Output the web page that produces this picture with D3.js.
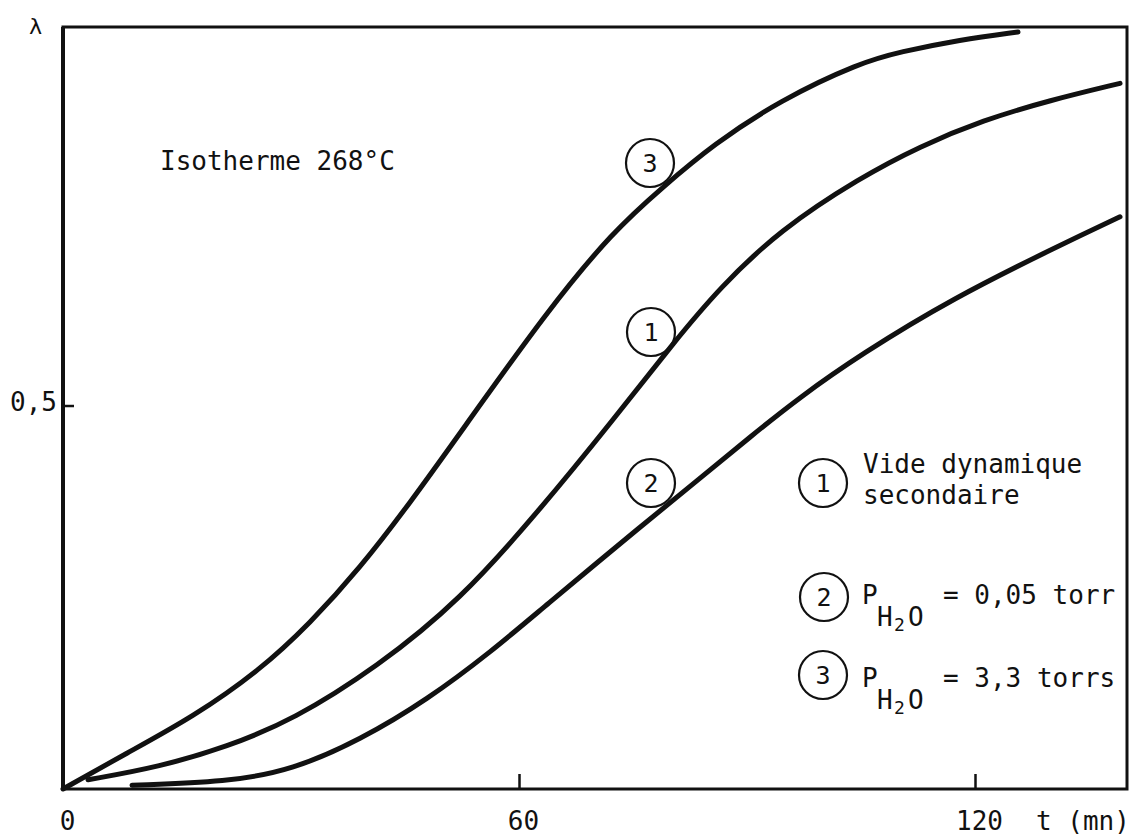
<!DOCTYPE html>
<html>
<head>
<meta charset="utf-8">
<script src="https://cdn.jsdelivr.net/npm/d3@7"></script>
<style>
  html, body { margin: 0; padding: 0; background: #fff; }
  text { font-family: "DejaVu Sans Mono", "Liberation Mono", monospace; fill: #111; }
</style>
</head>
<body>
<svg id="chart" width="1133" height="840"></svg>
<script>
// ---- data (t in minutes, lambda = fraction reacted) ----
const curve1_t = [3.29, 12.76, 21.58, 30.26, 41.32, 52.24, 62.76, 72.37, 80.26, 86.45, 94.34, 104.87, 112.76, 121.05, 129.87, 139.08];
const curve1_l = [0.012, 0.029, 0.055, 0.090, 0.159, 0.246, 0.364, 0.481, 0.581, 0.654, 0.729, 0.797, 0.838, 0.872, 0.898, 0.920];

const curve2_t = [9.08, 21.58, 30.26, 39.08, 47.89, 56.58, 62.76, 76.58, 83.82, 90.39, 96.97, 104.87, 117.11, 131.18, 139.08];
const curve2_l = [0.005, 0.009, 0.025, 0.064, 0.116, 0.181, 0.233, 0.347, 0.405, 0.459, 0.511, 0.566, 0.640, 0.709, 0.746];

const curve3_t = [0, 8.42, 17.11, 25.92, 32.50, 39.08, 45.66, 52.24, 63.68, 72.37, 78.95, 85.53, 94.34, 104.87, 110.13, 118.03, 125.66];
const curve3_l = [0.0, 0.047, 0.094, 0.155, 0.216, 0.288, 0.373, 0.464, 0.623, 0.727, 0.785, 0.840, 0.898, 0.947, 0.961, 0.977, 0.987];

const xTickValues = [0, 60, 120];
const xTickLabels = ["0", "60", "120"];
const yTickValues = [0.5];
const yTickLabels = ["0,5"];

const seriesNames = ["1", "2", "3"];
const legendTexts = [["Vide dynamique", "secondaire"], ["= 0,05 torr"], ["= 3,3 torrs"]];
const titleText = "Isotherme 268°C";
const yAxisTitle = "λ";
const xAxisTitle = "t (mn)";

// ---- layout ----
const svg = d3.select("#chart");
const mLeft = 63, mRight = 1127, mTop = 27, mBottom = 789;
const x = d3.scaleLinear().domain([0, 140]).range([mLeft, mRight]);
const y = d3.scaleLinear().domain([0, 0.9935]).range([mBottom, mTop]);

// frame
svg.append("rect")
  .attr("x", mLeft).attr("y", mTop)
  .attr("width", mRight - mLeft).attr("height", mBottom - mTop)
  .attr("fill", "none").attr("stroke", "#111").attr("stroke-width", 3);
svg.append("line")
  .attr("x1", mLeft).attr("x2", mLeft).attr("y1", mTop).attr("y2", mBottom)
  .attr("stroke", "#111").attr("stroke-width", 4);

// x axis
const xAxis = d3.axisBottom(x)
  .tickValues(xTickValues)
  .tickFormat((d, i) => xTickLabels[i])
  .tickSize(-15).tickSizeOuter(0);
const gx = svg.append("g").attr("transform", `translate(0,${mBottom})`).call(xAxis);
gx.select(".domain").remove();
gx.selectAll(".tick line").attr("stroke", "#111").attr("stroke-width", 2.5)
  .filter(d => d === 0).remove();
gx.selectAll(".tick text")
  .attr("y", 41).attr("dy", 0).attr("dx", 4)
  .style("font-size", "26px")
  .style("font-family", '"DejaVu Sans Mono", monospace')
  .attr("fill", "#111");

// y axis
const yAxis = d3.axisLeft(y)
  .tickValues(yTickValues)
  .tickFormat((d, i) => yTickLabels[i])
  .tickSize(-11).tickSizeOuter(0).tickPadding(6);
const gy = svg.append("g").attr("transform", `translate(${mLeft},0)`).call(yAxis);
gy.select(".domain").remove();
gy.selectAll(".tick line").attr("stroke", "#111").attr("stroke-width", 2.5);
gy.selectAll(".tick text")
  .attr("x", -6).attr("dy", 5)
  .style("font-size", "26px")
  .style("font-family", '"DejaVu Sans Mono", monospace')
  .attr("fill", "#111");

// axis titles
svg.append("text").attr("x", 29).attr("y", 34).style("font-size", "22px").text(yAxisTitle);
svg.append("text").attr("x", 1036).attr("y", 830).style("font-size", "26px").text(xAxisTitle);

// title
svg.append("text").attr("x", 160).attr("y", 170).style("font-size", "26px").text(titleText);

// curves
const line = d3.line().x(d => x(d[0])).y(d => y(d[1])).curve(d3.curveBasis);
const curves = [
  d3.zip(curve1_t, curve1_l),
  d3.zip(curve2_t, curve2_l),
  d3.zip(curve3_t, curve3_l)
];
svg.append("g").selectAll("path").data(curves).join("path")
  .attr("d", line)
  .attr("fill", "none").attr("stroke", "#111")
  .attr("stroke-width", 5).attr("stroke-linecap", "round");

// circled labels
function circled(cx, cy, label) {
  const g = svg.append("g");
  g.append("circle").attr("cx", cx).attr("cy", cy).attr("r", 24)
    .attr("fill", "none").attr("stroke", "#111").attr("stroke-width", 2.2);
  g.append("text").attr("x", cx).attr("y", cy + 9).attr("text-anchor", "middle")
    .style("font-size", "25px").text(label);
}
const onCurveCenters = [[651, 332], [651, 483], [650, 163]];
seriesNames.forEach((s, i) => circled(onCurveCenters[i][0], onCurveCenters[i][1], s));

// legend
circled(823, 483, seriesNames[0]);
svg.append("text").attr("x", 863).attr("y", 473).style("font-size", "26px").text(legendTexts[0][0]);
svg.append("text").attr("x", 863).attr("y", 504).style("font-size", "26px").text(legendTexts[0][1]);

function pLabel(baseY, rest) {
  svg.append("text").attr("x", 862).attr("y", baseY).style("font-size", "26px").text("P");
  svg.append("text").attr("x", 877).attr("y", baseY + 22).style("font-size", "26px").text("H");
  svg.append("text").attr("x", 894).attr("y", baseY + 27).style("font-size", "18px").text("2");
  svg.append("text").attr("x", 908).attr("y", baseY + 22).style("font-size", "26px").text("O");
  svg.append("text").attr("x", 943).attr("y", baseY).style("font-size", "26px").text(rest);
}
circled(824, 597, seriesNames[1]);
pLabel(604, legendTexts[1][0]);
circled(823, 675, seriesNames[2]);
pLabel(687, legendTexts[2][0]);
</script>
</body>
</html>
